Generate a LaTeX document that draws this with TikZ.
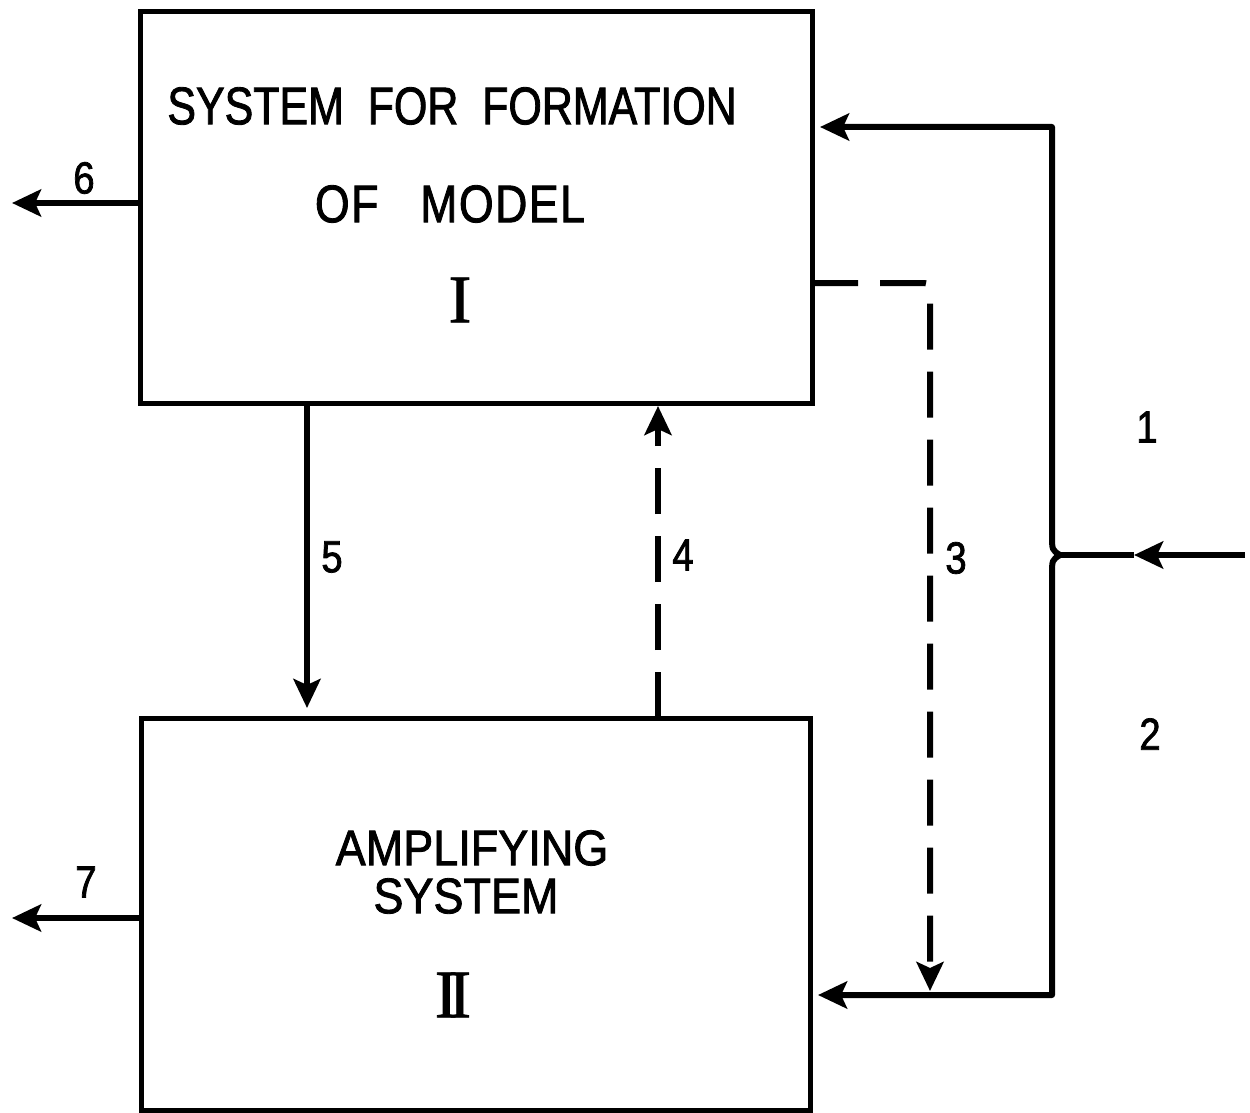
\documentclass[tikz,border=0pt]{standalone}
\usepackage{fontspec}
\setmainfont{Liberation Sans}
\newfontfamily\boxfontA[FakeStretch=0.81,WordSpace=2,FakeBold=1.6]{Liberation Sans}
\newfontfamily\boxfontC[FakeStretch=0.84,WordSpace=3,LetterSpace=3,FakeBold=1.6]{Liberation Sans}
\newfontfamily\boxfontB[FakeStretch=0.9,FakeBold=1.6]{Liberation Sans}
\newfontfamily\numfont[FakeStretch=0.85,FakeBold=1.6]{Liberation Sans}
\newfontfamily\romfont[FakeBold=1.2]{Liberation Serif}
\usetikzlibrary{arrows.meta}
\begin{document}
\begin{tikzpicture}[x=1pt,y=-1pt,
  blk/.style={draw,line width=5pt,rectangle,outer sep=0pt,inner sep=0pt},
  conn/.style={line width=6pt,-{Stealth[length=29pt,width=27pt,inset=6pt]}},
  dconn/.style={conn,dash pattern=on 46pt off 22pt},
  plain/.style={line width=6pt},
  lbl/.style={inner sep=0pt,anchor=center},
  tA/.style={lbl,font=\fontsize{53}{60}\selectfont\boxfontA},
  tC/.style={lbl,font=\fontsize{53}{60}\selectfont\boxfontC},
  tB/.style={lbl,font=\fontsize{50}{56}\selectfont\boxfontB},
  num/.style={lbl,font=\fontsize{45}{50}\selectfont\numfont},
  rom/.style={lbl,font=\fontsize{68}{72}\selectfont\romfont},
]
\useasboundingbox (0,0) rectangle (1250,1113);
% boxes
\node[blk,minimum width=672pt,minimum height=391pt] (b1) at (476,207.5) {};
\node[blk,minimum width=669pt,minimum height=392pt] (b2) at (475.5,914) {};
% texts in box I
\node[tA] (t1a) at (452,106) {SYSTEM FOR FORMATION};
\node[tC] (t1b) at (450,204) {OF MODEL};
\node[rom] (t1c) at (460,300) {I};
% texts in box II
\node[tB] (t2a) at (472,848) {AMPLIFYING};
\node[tB] (t2b) at (466,896) {SYSTEM};
\node[rom] (t2c) at (453,995) {I\kern-9pt I};
% coordinates
\coordinate (o6) at (12,203);
\coordinate (o7) at (12,918);
\coordinate (a5) at (307,0);
\coordinate (a4) at (658,0);
\coordinate (rt) at (1052,127);
\coordinate (rb) at (1052,995);
\coordinate (jt) at (1052,535);
\coordinate (jb) at (1052,575);
\coordinate (j) at (1060,555);
\coordinate (in) at (1245,555);
\coordinate (mid) at (1134,555);
\coordinate (d3) at (930,283);
\coordinate (d3e) at (930,991);
% outputs
\draw[conn] (b1.west |- o6) -- (o6);
\draw[conn] (b2.west |- o7) -- (o7);
% 5 and 4
\draw[conn] (b1.south -| a5) -- ([yshift=10pt]b2.north -| a5);
\draw[dconn] (b2.north -| a4) -- ([yshift=-3pt]b1.south -| a4);
% input
\draw[conn] (in) -- (mid);
\draw[plain] (mid) -- (j);
\draw[conn,line join=round] (j) .. controls (1052,550) .. (jt) -- (rt) -- ([xshift=8pt]b1.east |- rt);
\draw[conn,line join=round] (j) .. controls (1052,560) .. (jb) -- (rb) -- ([xshift=8pt]b2.east |- rb);
% dashed 3
\draw[dconn,rounded corners=6pt] (b1.east |- d3) -- (d3) -- (d3e);
% labels
\node[num] (n6) at (84,178) {6};
\node[num] (n7) at (86,882) {7};
\node[num] (n5) at (332,557) {5};
\node[num] (n4) at (683,555) {4};
\node[num] (n3) at (956,558) {3};
\node[num] (n1) at (1147,427) {1};
\node[num] (n2) at (1150,734) {2};
\end{tikzpicture}
\end{document}
